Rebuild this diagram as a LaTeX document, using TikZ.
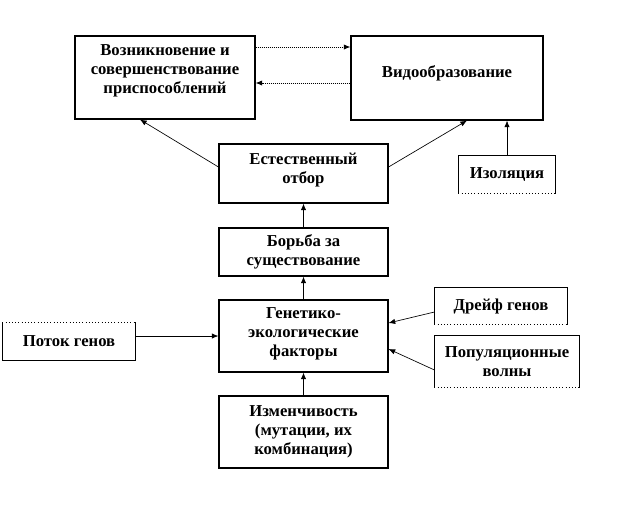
\documentclass[tikz,border=0pt]{standalone}
\usepackage{fontspec}
\setmainfont{Liberation Serif}
\usetikzlibrary{arrows.meta}

\begin{document}
\begin{tikzpicture}[x=0.75pt, y=-0.75pt, >={Latex[length=5pt,width=4pt]},
  block/.style={draw, line width=0.8pt, align=center, inner sep=0pt,
    font=\fontsize{12.5}{14.25}\selectfont\bfseries},
  openblock/.style={block, draw=none},
  edge/.style={->, line width=0.5pt},
  dotedge/.style={->, line width=0.6pt, dash pattern=on 0.75pt off 0.75pt}]
\useasboundingbox (0,0) rectangle (639,504);

\node[block, minimum width=135pt, minimum height=62.25pt, text depth=13pt] (adapt) at (165,77.5) {Возникновение и\\совершенствование\\приспособлений};
\node[block, minimum width=144pt, minimum height=63pt, text depth=9pt] (speciation) at (447,78) {Видообразование};
\node[openblock, minimum width=72pt, minimum height=27.75pt] (isolation) at (507,174.5) {Изоляция};
\node[block, minimum width=126.75pt, minimum height=44.25pt, text depth=8pt] (selection) at (303.5,173.5) {Естественный\\отбор};
\node[block, minimum width=126.75pt, minimum height=36pt] (struggle) at (303.5,252) {Борьба за\\существование};
\node[block, minimum width=126.75pt, minimum height=54pt, text depth=6pt] (factors) at (303.5,336) {Генетико-\\экологические\\факторы};
\node[block, minimum width=126.75pt, minimum height=54pt] (variation) at (303.5,432) {Изменчивость\\(мутации, их\\комбинация)};
\node[openblock, minimum width=99pt, minimum height=27.75pt] (flow) at (69,341.5) {Поток генов};
\node[openblock, minimum width=99pt, minimum height=27pt] (drift) at (501,306) {Дрейф генов};
\node[openblock, minimum width=108pt, minimum height=38.25pt] (waves) at (507,361.5) {Популяционные\\волны};

\draw[line width=0.8pt] (isolation.south west) -- (isolation.north west) -- (isolation.north east) -- (isolation.south east);
\draw[dotted] (isolation.south west) -- (isolation.south east);
\draw[line width=0.8pt] (flow.north west) -- (flow.south west) -- (flow.south east) -- (flow.north east);
\draw[dotted] (flow.north west) -- (flow.north east);
\draw[line width=0.8pt] (drift.south west) -- (drift.north west) -- (drift.north east) -- (drift.south east);
\draw[dotted] (drift.south west) -- (drift.south east);
\draw[line width=0.8pt] (waves.south west) -- (waves.north west) -- (waves.north east) -- (waves.south east);
\draw[dotted] (waves.south west) -- (waves.south east);

\draw[dotedge] (adapt.east |- 0,47) -- (speciation.west |- 0,47);
\draw[dotedge] (speciation.west |- 0,83) -- (adapt.east |- 0,83);
\draw[edge] (selection.west |- 0,167) -- (adapt.south -| 140,0);
\draw[edge] (selection.east |- 0,167) -- (speciation.south -| 467,0);
\draw[edge] (isolation.north) -- (isolation.north |- speciation.south);
\draw[edge] (struggle.north) -- (selection.south);
\draw[edge] (factors.north) -- (struggle.south);
\draw[edge] (variation.north) -- (factors.south);
\draw[edge] (flow.east |- factors.west) -- (factors.west);
\draw[edge] (drift.west |- 0,312) -- (factors.east |- 0,323);
\draw[edge] (waves.west |- 0,370) -- (factors.east |- 0,349);
\end{tikzpicture}
\end{document}
